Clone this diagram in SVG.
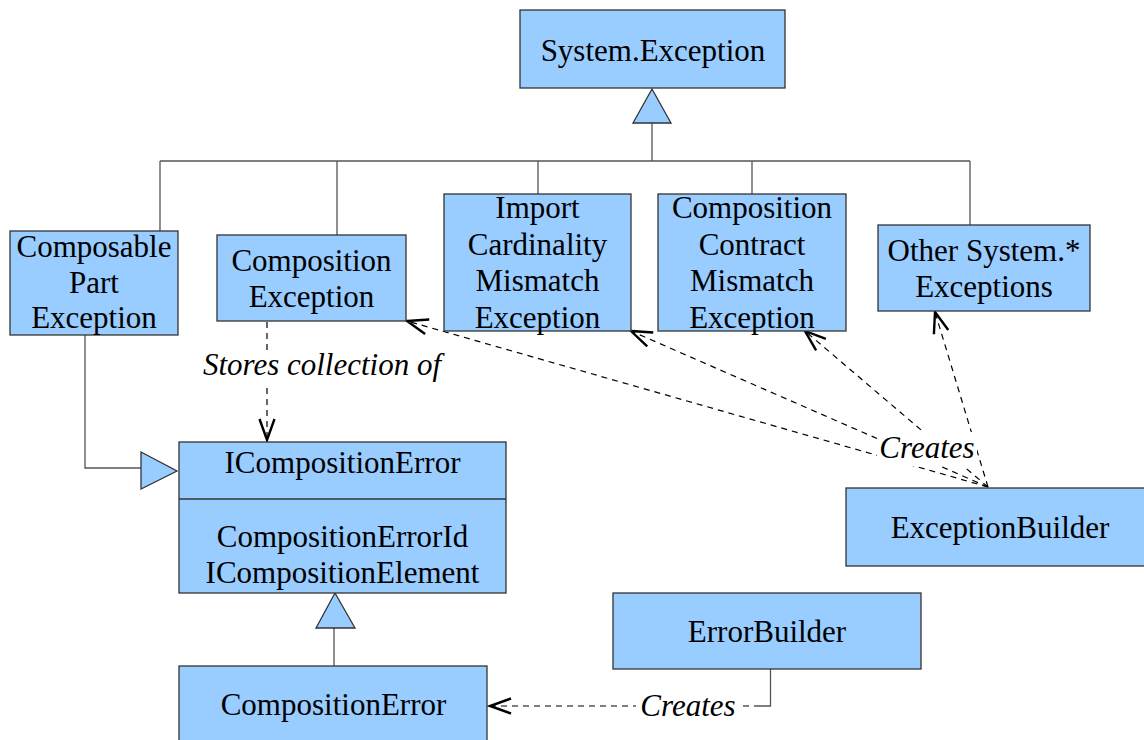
<svg xmlns="http://www.w3.org/2000/svg" width="1144" height="740" viewBox="0 0 1144 740">
<style>
.box{fill:#99ccff;stroke:#333333;stroke-width:1.3}
.t{font-family:"Liberation Serif","Times New Roman",serif;font-size:31px;fill:#000;text-anchor:middle}
.lbl{font-family:"Liberation Serif","Times New Roman",serif;font-size:31px;font-style:italic;fill:#000;text-anchor:middle}
.solid{fill:none;stroke:#555555;stroke-width:1.3}
.dash{fill:none;stroke:#000;stroke-width:1.2;stroke-dasharray:6,5}
.tri{fill:#99ccff;stroke:#333333;stroke-width:1.3}
</style>
<defs>
<marker id="open" markerUnits="userSpaceOnUse" markerWidth="30" markerHeight="30" viewBox="-16 -10 20 20" refX="0" refY="0" orient="auto">
<path d="M -14 -5 L 0 0 L -14 5" fill="none" stroke="#000" stroke-width="1.6" stroke-dasharray="none"/>
</marker>
</defs>
<rect width="1144" height="740" fill="#fff"/>

<g id="connectors">
<path class="solid" d="M652 123 V161 M160 161 H970 M160 161 V231 M337 161 V235 M538 161 V194 M752 161 V194 M970 161 V225"/>
<polygon class="tri" points="652,89 633,123 671,123"/>
<path class="solid" d="M85 335 V468 H141"/>
<polygon class="tri" points="141,452 141,489 177,471"/>
<path class="solid" d="M334 628 V666"/>
<polygon class="tri" points="335,593 316,628 355,628"/>
<path class="dash" d="M267 322 V440" marker-end="url(#open)"/>
<path class="dash" d="M988 487 L407 321" marker-end="url(#open)"/>
<path class="dash" d="M988 487 L631 331" marker-end="url(#open)"/>
<path class="dash" d="M988 487 L805 331" marker-end="url(#open)"/>
<path class="dash" d="M988 487 L935 312" marker-end="url(#open)"/>
<path class="solid" d="M770.5 669 V706 H760" stroke="#333"/>
<path class="dash" d="M760 706 H490" marker-end="url(#open)"/>
<rect x="196" y="350" width="254" height="34" fill="#fff"/>
<text class="lbl" x="322" y="375">Stores collection of</text>
<rect x="877" y="432" width="100" height="34" fill="#fff"/>
<text class="lbl" x="927" y="458">Creates</text>
<rect x="636" y="690" width="105" height="34" fill="#fff"/>
<text class="lbl" x="688" y="716">Creates</text>
</g>

<g id="system-exception">
<rect class="box" x="520" y="10" width="265" height="78"/>
<text class="t" x="653" y="61">System.Exception</text>
</g>

<g id="composable-part-exception">
<rect class="box" x="10" y="231" width="168" height="104"/>
<text class="t" x="94" y="257">Composable</text>
<text class="t" x="94" y="293">Part</text>
<text class="t" x="94" y="328">Exception</text>
</g>

<g id="composition-exception">
<rect class="box" x="217" y="235" width="189" height="86"/>
<text class="t" x="311.5" y="271">Composition</text>
<text class="t" x="311.5" y="307">Exception</text>
</g>

<g id="import-cardinality-mismatch-exception">
<rect class="box" x="444" y="194" width="187" height="137"/>
<text class="t" x="537.5" y="218">Import</text>
<text class="t" x="537.5" y="255">Cardinality</text>
<text class="t" x="537.5" y="291">Mismatch</text>
<text class="t" x="537.5" y="328">Exception</text>
</g>

<g id="composition-contract-mismatch-exception">
<rect class="box" x="658" y="194" width="188" height="137"/>
<text class="t" x="752" y="218">Composition</text>
<text class="t" x="752" y="255">Contract</text>
<text class="t" x="752" y="291">Mismatch</text>
<text class="t" x="752" y="328">Exception</text>
</g>

<g id="other-system-exceptions">
<rect class="box" x="878" y="225" width="212" height="86"/>
<text class="t" x="984" y="261">Other System.*</text>
<text class="t" x="984" y="297">Exceptions</text>
</g>

<g id="icomposition-error">
<rect class="box" x="179" y="442" width="327" height="151"/>
<line x1="179" y1="499" x2="506" y2="499" stroke="#333" stroke-width="1.3"/>
<text class="t" x="342.5" y="473">ICompositionError</text>
<text class="t" x="342.5" y="547">CompositionErrorId</text>
<text class="t" x="342.5" y="583">ICompositionElement</text>
</g>

<g id="exception-builder">
<rect class="box" x="846" y="488" width="310" height="78"/>
<text class="t" x="1000" y="538">ExceptionBuilder</text>
</g>

<g id="error-builder">
<rect class="box" x="613" y="593" width="308" height="76"/>
<text class="t" x="767" y="642">ErrorBuilder</text>
</g>

<g id="composition-error">
<rect class="box" x="179" y="666" width="308" height="90"/>
<text class="t" x="333.5" y="715">CompositionError</text>
</g>
</svg>
